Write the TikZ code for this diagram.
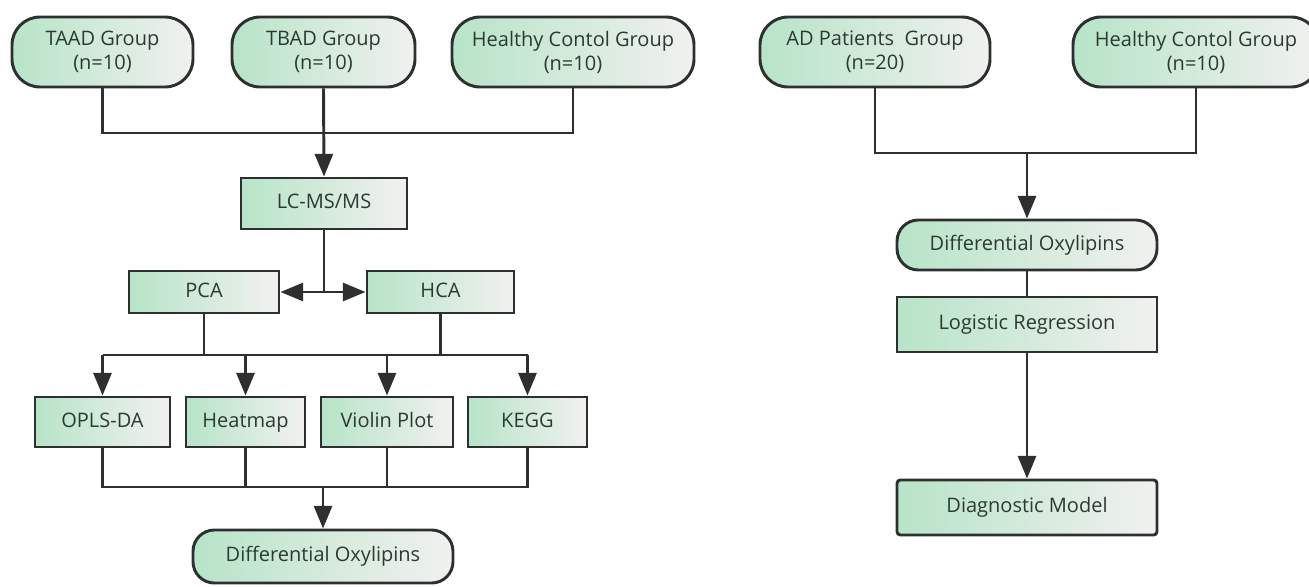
\documentclass[tikz,border=0pt]{standalone}
\usepackage{fontspec}
\setmainfont{Open Sans}
\usetikzlibrary{arrows.meta,calc}
\definecolor{boxgreen}{RGB}{183,228,200}
\definecolor{boxgray}{RGB}{241,241,239}
\definecolor{linec}{RGB}{45,48,46}
\definecolor{textc}{RGB}{44,58,50}
\tikzset{
  base/.style={draw=linec, line width=2.2pt, left color=boxgreen, right color=boxgray,
    text=textc, font=\fontsize{15}{18}\selectfont, align=center, inner sep=0pt},
  one/.style={text height=11pt, text depth=3.5pt},
  sz/.style 2 args={minimum width=#1*0.75pt, minimum height=#2*0.75pt},
  pill/.style={base, rounded corners=21pt},
  pillsm/.style={base, one, rounded corners=16pt},
  sqbox/.style={base, one},
  rbox/.style={base, one, rounded corners=2.5pt},
  conn/.style={draw=linec, line width=2.2pt},
  arr/.style={conn, -{Triangle[length=17pt,width=13.5pt]}},
  darr/.style={conn, {Triangle[length=17pt,width=13.5pt]}-{Triangle[length=17pt,width=13.5pt]}}
}
\begin{document}
\begin{tikzpicture}[x=0.75pt,y=-0.75pt]
\useasboundingbox (0,0) rectangle (1309,586);
% left part
\node[pill, sz={181}{70}] (taad) at (102.5,52) {TAAD Group\\(n=10)};
\node[pill, sz={183}{70}] (tbad) at (323.5,52) {TBAD Group\\(n=10)};
\node[pill, sz={242}{70}] (hc1) at (573,52) {Healthy Contol Group\\(n=10)};
\node[sqbox, sz={166}{51}] (lcms) at (324,203.5) {LC-MS/MS};
\node[sqbox, sz={150}{42}] (pca) at (204,292) {PCA};
\node[sqbox, sz={147}{42}] (hca) at (440.5,292) {HCA};
\node[sqbox, sz={135}{50}] (opls) at (102.5,422) {OPLS-DA};
\node[sqbox, sz={119}{50}] (heat) at (245.5,422) {Heatmap};
\node[sqbox, sz={132}{50}] (violin) at (387,422) {Violin Plot};
\node[sqbox, sz={119}{50}] (kegg) at (527.5,422) {KEGG};
\node[pillsm, sz={260}{53}] (diff1) at (323,556.5) {Differential Oxylipins};
% right part
\node[pill, sz={230}{70}] (ad) at (875,52) {AD Patients~~Group\\(n=20)};
\node[pill, sz={246}{70}] (hc2) at (1196,52) {Healthy Contol Group\\(n=10)};
\node[pillsm, sz={260}{50}] (diff2) at (1027,245) {Differential Oxylipins};
\node[sqbox, sz={260}{55}] (logit) at (1027,324.5) {Logistic Regression};
\node[rbox, sz={260}{55}] (diag) at (1027,507.5) {Diagnostic Model};
% junction coordinates
\coordinate (j1) at (323.5,133);
\coordinate (j2) at (324,292);
\coordinate (j3) at (323,355);
\coordinate (j4) at (323,487);
\coordinate (j5) at (1027,153);
% left connectors
\draw[conn] (taad.south) |- (j1) -| (hc1.south);
\draw[arr] (tbad.south) -- (lcms.north);
\draw[conn] (lcms.south) -- (j2);
\draw[darr] (pca.east) -- (hca.west);
\draw[conn] (pca.south) |- (j3);
\draw[conn] (hca.south) |- (j3);
\draw[conn] (j3 -| opls.north) -- (j3 -| kegg.north);
\draw[arr] (j3 -| opls.north) -- (opls.north);
\draw[arr] (j3 -| heat.north) -- (heat.north);
\draw[arr] (j3 -| violin.north) -- (violin.north);
\draw[arr] (j3 -| kegg.north) -- (kegg.north);
\draw[conn] (opls.south) |- (j4) -| (kegg.south);
\draw[conn] (heat.south) -- (heat.south |- j4);
\draw[conn] (violin.south) -- (violin.south |- j4);
\draw[arr] (j4) -- (diff1.north);
% right connectors
\draw[conn] (ad.south) |- (j5) -| (hc2.south);
\draw[arr] (j5) -- (diff2.north);
\draw[conn] (diff2.south) -- (logit.north);
\draw[arr] (logit.south) -- (diag.north);
\end{tikzpicture}
\end{document}
